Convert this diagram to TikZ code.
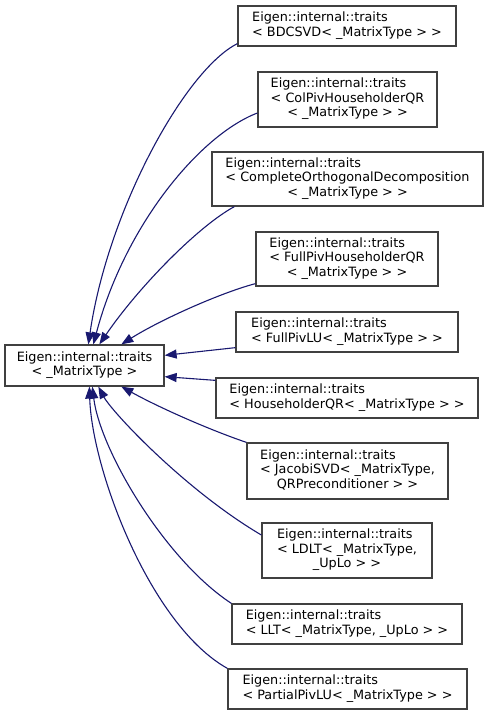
\documentclass[tikz,border=0pt]{standalone}
\usepackage{fontspec}
\setmainfont{DejaVu Sans}
\usetikzlibrary{arrows.meta,calc}
\definecolor{edgeblue}{RGB}{25,25,112}
\definecolor{boxgray}{RGB}{64,64,64}
\newcommand\mylines[1]{\begin{tabular}{@{}l@{}}#1\end{tabular}}
\newcommand\mycenter[1]{\multicolumn{1}{@{}c@{}}{#1}}
\begin{document}
\begin{tikzpicture}[x=1pt,y=-1pt,
  box/.style={draw=boxgray,line width=1.3pt,fill=white,inner sep=0pt,
    font=\fontsize{12.8}{14.5}\selectfont},
  edge/.style={draw=edgeblue,line width=1.1pt,-{Triangle[length=12pt,width=9pt]}}]
\useasboundingbox (0,0) rectangle (488,716);
\node[box,minimum width=159pt,minimum height=41pt] (base) at (84.5,365.5)
  {\mylines{\mycenter{Eigen::internal::traits}\\\mycenter{< \_MatrixType >}}};
\node[box,minimum width=218pt,minimum height=40pt] (n1) at (347,26)
  {\mylines{Eigen::internal::traits\\< BDCSVD< \_MatrixType > >}};
\node[box,minimum width=179pt,minimum height=55pt] (n2) at (347.5,99.5)
  {\mylines{Eigen::internal::traits\\< ColPivHouseholderQR\\\mycenter{< \_MatrixType > >}}};
\node[box,minimum width=271pt,minimum height=54pt] (n3) at (347.5,179)
  {\mylines{Eigen::internal::traits\\< CompleteOrthogonalDecomposition\\\mycenter{< \_MatrixType > >}}};
\node[box,minimum width=182pt,minimum height=54pt] (n4) at (347,259)
  {\mylines{Eigen::internal::traits\\< FullPivHouseholderQR\\\mycenter{< \_MatrixType > >}}};
\node[box,minimum width=222pt,minimum height=40pt] (n5) at (347,332)
  {\mylines{Eigen::internal::traits\\< FullPivLU< \_MatrixType > >}};
\node[box,minimum width=262pt,minimum height=40pt] (n6) at (347,398)
  {\mylines{Eigen::internal::traits\\< HouseholderQR< \_MatrixType > >}};
\node[box,minimum width=201pt,minimum height=56pt] (n7) at (347.5,471)
  {\mylines{Eigen::internal::traits\\< JacobiSVD< \_MatrixType,\\\mycenter{QRPreconditioner > >}}};
\node[box,minimum width=170pt,minimum height=55pt] (n8) at (347,550.5)
  {\mylines{Eigen::internal::traits\\< LDLT< \_MatrixType,\\\mycenter{\_UpLo > >}}};
\node[box,minimum width=230pt,minimum height=40pt] (n9) at (347,624)
  {\mylines{Eigen::internal::traits\\< LLT< \_MatrixType, \_UpLo > >}};
\node[box,minimum width=239pt,minimum height=40pt] (n10) at (347.5,689)
  {\mylines{Eigen::internal::traits\\< PartialPivLU< \_MatrixType > >}};
% edges
\draw[edge] ($(n1.south west)+(0,-3)$) .. controls (185,70) and (108,210) .. ($(base.north west)+(84,0)$);
\draw[edge] ($(n2.west)+(0,13.5)$) .. controls (200,135) and (125,225) .. ($(base.north west)+(89,0)$);
\draw[edge] ($(n3.south west)+(23,0)$) .. controls (200,225) and (140,285) .. ($(base.north west)+(95,0)$);
\draw[edge] ($(n4.south west)+(0,-3)$) .. controls (220,293) and (160,320) .. ($(base.north west)+(117,0)$);
\draw[edge] ($(n5.south west)+(0,-5)$) -- ($(base.north east)+(0,11)$);
\draw[edge] ($(n6.north west)+(0,3)$) -- ($(base.south east)+(0,-10)$);
\draw[edge] (n7.north west) .. controls (210,430) and (160,408) .. ($(base.south west)+(117,0)$);
\draw[edge] ($(n8.west)+(0,-15.5)$) .. controls (185,490) and (112,412) .. ($(base.south west)+(94,0)$);
\draw[edge] (n9.north west) .. controls (165,560) and (100,450) .. ($(base.south west)+(88,0)$);
\draw[edge] (n10.north west) .. controls (150,625) and (92,470) .. ($(base.south west)+(85,0)$);
\end{tikzpicture}
\end{document}
